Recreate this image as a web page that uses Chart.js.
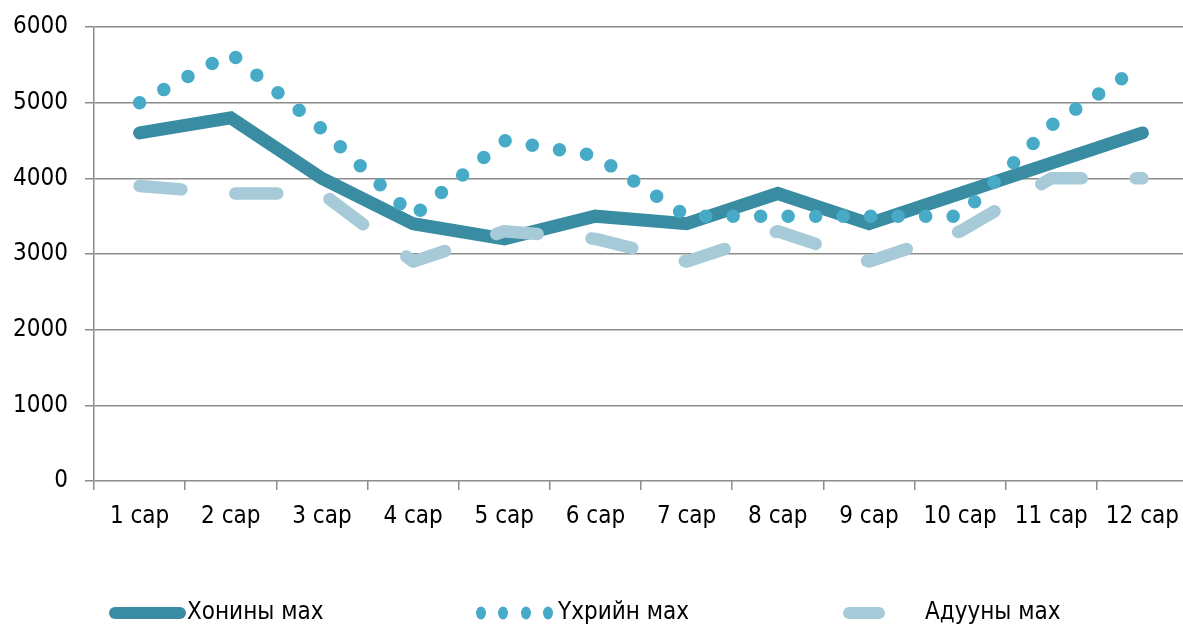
<!DOCTYPE html>
<html>
<head>
<meta charset="utf-8">
<script src="https://cdn.jsdelivr.net/npm/chart.js@4"></script>
<style>
  html, body { margin: 0; padding: 0; background: #fff; overflow: hidden; }
  #wrap { width: 1191px; height: 626px; position: relative; }
</style>
</head>
<body>
<div id="wrap"><canvas id="meatChart"></canvas></div>
<script>
document.addEventListener("DOMContentLoaded", function () {
  const months = ['1 сар', '2 сар', '3 сар', '4 сар', '5 сар', '6 сар',
                  '7 сар', '8 сар', '9 сар', '10 сар', '11 сар', '12 сар'];

  // values
  const sheepMeat = [4600, 4800, 4000, 3400, 3200, 3500, 3400, 3800, 3400, 3800, 4200, 4600];
  const beefMeat  = [5000, 5650, 4650, 3500, 4500, 4300, 3500, 3500, 3500, 3500, 4700, 5500];
  const horseMeat = [3900, 3800, 3800, 2900, 3300, 3200, 2900, 3300, 2900, 3300, 4000, 4000];

  const seriesNames = ['Хонины мах', 'Үхрийн мах', 'Адууны мах'];
  const yMin = 0, yMax = 6000, yStep = 1000;

  const FONT = "'DejaVu Sans Condensed', 'DejaVu Sans', sans-serif";
  const gridColor = '#8c8c8c';

  // own legend drawn under the axis, styled like the reference
  const bottomLegend = {
    id: 'bottomLegend',
    afterDraw(chart) {
      const ctx = chart.ctx;
      const ds = chart.data.datasets;
      const y = 613;
      ctx.save();
      ctx.font = '24px ' + FONT;
      ctx.fillStyle = '#000';
      ctx.textBaseline = 'middle';

      // solid
      ctx.strokeStyle = ds[0].borderColor;
      ctx.lineWidth = 12;
      ctx.lineCap = 'round';
      ctx.beginPath(); ctx.moveTo(115, y); ctx.lineTo(180, y); ctx.stroke();
      ctx.fillText(ds[0].label, 187, y);

      // dotted
      ctx.fillStyle = ds[1].borderColor;
      [481, 503, 526, 548].forEach(x => {
        ctx.beginPath(); ctx.ellipse(x, y, 5, 6.5, 0, 0, Math.PI * 2); ctx.fill();
      });
      ctx.fillStyle = '#000';
      ctx.fillText(ds[1].label, 558, y);

      // dashed
      ctx.strokeStyle = ds[2].borderColor;
      ctx.beginPath(); ctx.moveTo(849, y); ctx.lineTo(879, y); ctx.stroke();
      ctx.fillText(ds[2].label, 925, y);
      ctx.restore();
    }
  };

  new Chart(document.getElementById('meatChart'), {
    type: 'line',
    data: {
      labels: months,
      datasets: [
        {
          label: seriesNames[0],
          data: sheepMeat,
          borderColor: '#398ca1',
          borderWidth: 13,
          borderCapStyle: 'round',
          borderJoinStyle: 'miter',
          pointRadius: 0,
          fill: false,
          order: 3
        },
        {
          label: seriesNames[1],
          data: beefMeat,
          borderColor: '#47abc7',
          borderWidth: 13.5,
          borderDash: [0, 27.5],
          borderCapStyle: 'round',
          borderJoinStyle: 'round',
          pointRadius: 0,
          fill: false,
          order: 2
        },
        {
          label: seriesNames[2],
          data: horseMeat,
          borderColor: '#a6cad8',
          borderWidth: 12.5,
          borderDash: [42, 54],
          borderCapStyle: 'round',
          borderJoinStyle: 'round',
          pointRadius: 0,
          fill: false,
          order: 1
        }
      ]
    },
    options: {
      responsive: true,
      maintainAspectRatio: false,
      animation: false,
      layout: { padding: { top: 27, left: 0, right: 0, bottom: 0 } },
      plugins: {
        legend: { display: false },
        tooltip: { enabled: false }
      },
      scales: {
        x: {
          offset: true,
          grid: {
            offset: true,
            drawOnChartArea: false,
            drawTicks: true,
            tickLength: 9,
            color: gridColor,
            lineWidth: 1.5
          },
          border: { display: false },
          ticks: {
            color: '#000',
            font: { family: FONT, size: 24 },
            padding: 12,
            maxRotation: 0,
            autoSkip: false
          },
          afterFit(scale) { scale.height = 145; }
        },
        y: {
          min: yMin,
          max: yMax,
          grid: {
            color: gridColor,
            lineWidth: 1.5,
            tickLength: 9
          },
          border: { display: true, color: gridColor, width: 1.5 },
          ticks: {
            stepSize: yStep,
            color: '#000',
            font: { family: FONT, size: 24 },
            padding: 17,
            callback: (v) => String(v)
          },
          afterFit(scale) {
            scale.width = 94;
            scale.paddingTop = 0;
            scale.paddingBottom = 0;
          }
        }
      }
    },
    plugins: [bottomLegend]
  });
});
</script>
</body>
</html>
